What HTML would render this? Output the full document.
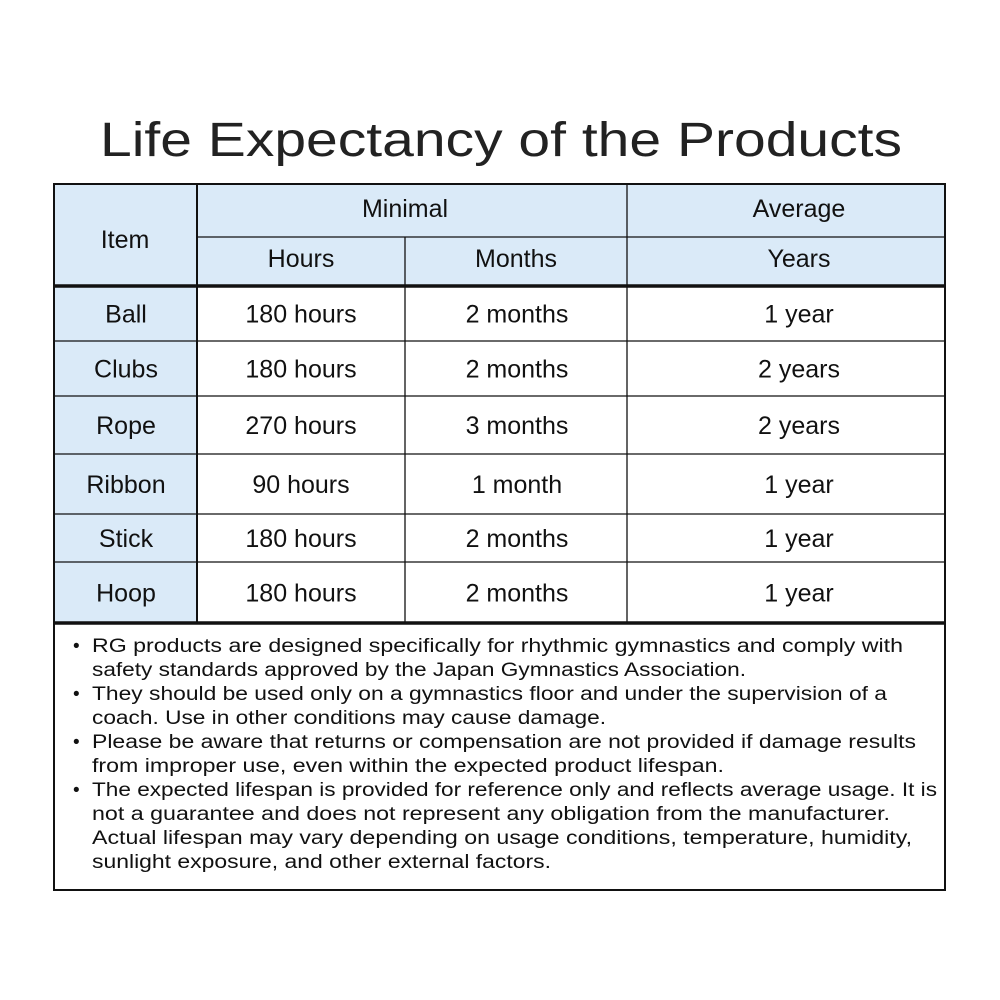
<!DOCTYPE html>
<html><head><meta charset="utf-8"><style>
html,body{margin:0;padding:0;background:#fff;}
svg{display:block;font-family:"Liberation Sans",sans-serif;}
</style></head><body>
<svg width="1000" height="1000" viewBox="0 0 1000 1000">
<rect x="0" y="0" width="1000" height="1000" fill="#fff"/>
<text x="100" y="156" font-size="48" fill="#222" textLength="802" lengthAdjust="spacingAndGlyphs">Life Expectancy of the Products</text>
<rect x="54" y="184" width="891" height="102" fill="#daeaf8"/>
<rect x="54" y="286" width="143" height="337" fill="#daeaf8"/>
<g stroke="#111" fill="none">
<line x1="197" y1="237" x2="945" y2="237" stroke-width="1.3"/>
<line x1="405" y1="237" x2="405" y2="623" stroke-width="1.3"/>
<line x1="627" y1="184" x2="627" y2="623" stroke-width="1.3"/>
<line x1="197" y1="184" x2="197" y2="623" stroke-width="2"/>
<line x1="54" y1="341" x2="945" y2="341" stroke-width="1.3"/>
<line x1="54" y1="396" x2="945" y2="396" stroke-width="1.3"/>
<line x1="54" y1="454" x2="945" y2="454" stroke-width="1.3"/>
<line x1="54" y1="514" x2="945" y2="514" stroke-width="1.3"/>
<line x1="54" y1="562" x2="945" y2="562" stroke-width="1.3"/>
<line x1="54" y1="286" x2="945" y2="286" stroke-width="3.5"/>
<line x1="54" y1="623" x2="945" y2="623" stroke-width="3.5"/>
<rect x="54" y="184" width="891" height="706" stroke-width="2"/>
</g>
<g font-size="25" fill="#111" text-anchor="middle">
<text x="125" y="248">Item</text>
<text x="405" y="217">Minimal</text>
<text x="799" y="217">Average</text>
<text x="301" y="267">Hours</text>
<text x="516" y="267">Months</text>
<text x="799" y="267">Years</text>
</g>
<g id="rows" font-size="25" fill="#111" text-anchor="middle"></g>
<g font-size="19" fill="#111">
<text x="73" y="652">•</text><text x="92" y="652" textLength="811" lengthAdjust="spacingAndGlyphs">RG products are designed specifically for rhythmic gymnastics and comply with</text>
<text x="92" y="676" textLength="654" lengthAdjust="spacingAndGlyphs">safety standards approved by the Japan Gymnastics Association.</text>
<text x="73" y="700">•</text><text x="92" y="700" textLength="795" lengthAdjust="spacingAndGlyphs">They should be used only on a gymnastics floor and under the supervision of a</text>
<text x="92" y="724" textLength="514" lengthAdjust="spacingAndGlyphs">coach. Use in other conditions may cause damage.</text>
<text x="73" y="748">•</text><text x="92" y="748" textLength="824" lengthAdjust="spacingAndGlyphs">Please be aware that returns or compensation are not provided if damage results</text>
<text x="92" y="772" textLength="632" lengthAdjust="spacingAndGlyphs">from improper use, even within the expected product lifespan.</text>
<text x="73" y="796">•</text><text x="92" y="796" textLength="845" lengthAdjust="spacingAndGlyphs">The expected lifespan is provided for reference only and reflects average usage. It is</text>
<text x="92" y="820" textLength="798" lengthAdjust="spacingAndGlyphs">not a guarantee and does not represent any obligation from the manufacturer.</text>
<text x="92" y="844" textLength="820" lengthAdjust="spacingAndGlyphs">Actual lifespan may vary depending on usage conditions, temperature, humidity,</text>
<text x="92" y="868" textLength="459" lengthAdjust="spacingAndGlyphs">sunlight exposure, and other external factors.</text>
</g>
</svg>
<script>
const items = ["Ball","Clubs","Rope","Ribbon","Stick","Hoop"];
const hours = ["180 hours","180 hours","270 hours","90 hours","180 hours","180 hours"];
const months = ["2 months","2 months","3 months","1 month","2 months","2 months"];
const years = ["1 year","2 years","2 years","1 year","1 year","1 year"];
const rowBounds=[286,341,396,454,514,562,623];
const colX=[126,301,517,799];
const g=document.getElementById('rows');
const ns='http://www.w3.org/2000/svg';
items.forEach((it,i)=>{
  const cy=(rowBounds[i]+rowBounds[i+1])/2+9;
  [it,hours[i],months[i],years[i]].forEach((v,j)=>{
    const t=document.createElementNS(ns,'text');
    t.setAttribute('x',colX[j]);t.setAttribute('y',cy);
    t.textContent=v;
    
    
    g.appendChild(t);
  });
});
</script>
</body></html>
